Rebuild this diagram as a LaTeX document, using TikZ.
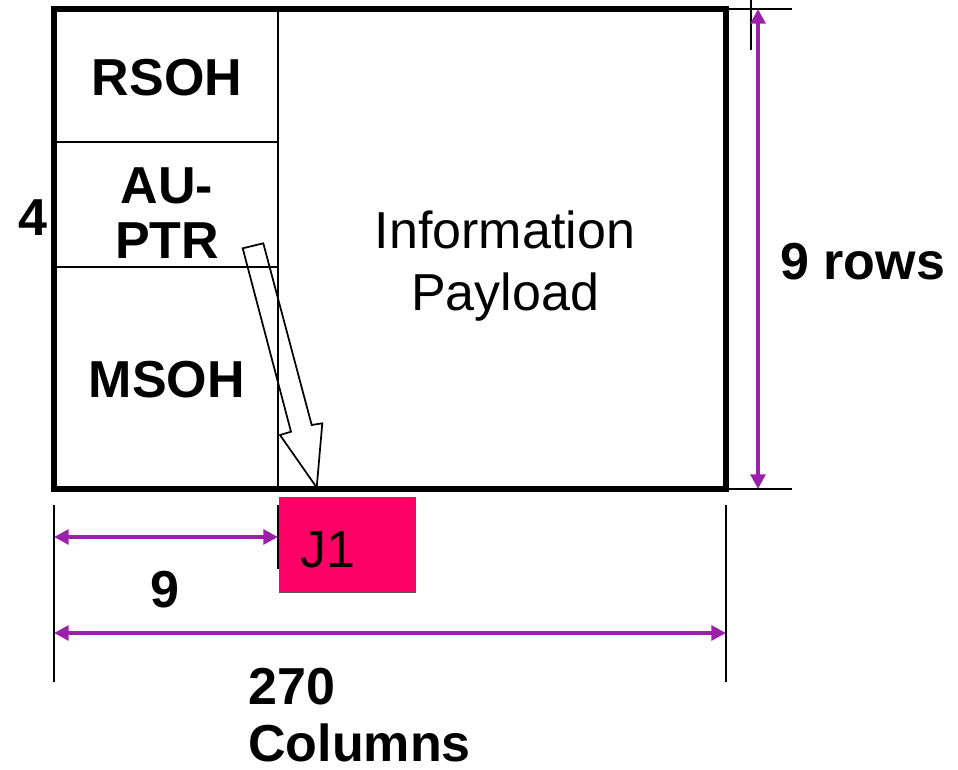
\documentclass[tikz,border=0pt]{standalone}
\usepackage{fontspec}
\setmainfont{Liberation Sans}
\usetikzlibrary{arrows.meta}
\definecolor{dimpurple}{RGB}{155,32,170}
\definecolor{jred}{RGB}{255,0,102}
\tikzset{
  frame/.style={line width=3.8pt},
  divider/.style={line width=1.5pt},
  extline/.style={line width=1.1pt},
  dimarrow/.style={draw=dimpurple, line width=3.2pt, {Triangle[length=11pt,width=11pt]}-{Triangle[length=11pt,width=11pt]}},
  boldlbl/.style={font=\fontsize{39}{41}\selectfont\bfseries, inner sep=0pt},
  plainlbl/.style={font=\fontsize{39}{46.5}\selectfont, inner sep=0pt},
}
\begin{document}
\begin{tikzpicture}[x=0.75pt,y=-0.75pt]
\useasboundingbox (0,0) rectangle (958,769);
% frame
\coordinate (tl) at (54,9);
\coordinate (br) at (726,489);
\draw[divider] (278,9) -- (278,489);
\draw[divider] (54,142) -- (278,142);
\draw[divider] (54,267) -- (278,267);
\draw[frame] (tl) rectangle (br);
% labels in frame
\node[boldlbl] (rsoh) at (167,78) {RSOH};
\node[boldlbl, align=center, font=\fontsize{39}{41.5}\selectfont\bfseries] (auptr) at (167,213) {AU-\\PTR};
\node[boldlbl] (msoh) at (167,380) {MSOH};
\node[plainlbl, align=center] (info) at (505,266) {Information\\Payload};
\node[boldlbl] (four) at (33,218) {4};
% J1 box
\node[draw=gray!70!black, line width=0.8pt, fill=jred, minimum width=102pt, minimum height=71pt, anchor=north west, inner sep=0pt] (j1box) at (279,497) {};
\node[font=\fontsize{39}{41}\selectfont, inner sep=0pt, anchor=west] (j1) at (300,550) {J1};
% hollow pointer arrow
\draw[line width=1.3pt, line join=miter] (242.7,248.3) -- (263.3,243.3) -- (311.7,425) -- (322.3,423.3) -- (316.7,487.5) -- (280,435) -- (291,431.7) -- cycle;
% right dimension
\coordinate (rt1) at (792,9);
\coordinate (rb1) at (792,489);
\draw[extline] (br |- tl) -- (rt1);
\draw[extline] (br) -- (rb1);
\draw[extline] (751,0) -- (751,50);
\coordinate (rowtop) at (758,9);
\coordinate (rowbot) at (758,489);
\draw[dimarrow] (rowtop) -- (rowbot);
\node[boldlbl, anchor=west] (rows) at (780,262) {9 rows};
% bottom dimensions
\coordinate (l1) at (54,505);
\coordinate (l2) at (54,682);
\coordinate (r1) at (726,505);
\coordinate (r2) at (726,682);
\coordinate (m1) at (278,505);
\coordinate (m2) at (278,569);
\draw[extline] (l1) -- (l2);
\draw[extline] (r1) -- (r2);
\draw[extline] (m1) -- (m2);
\coordinate (nineL) at (54,537);
\coordinate (nineR) at (278,537);
\draw[dimarrow] (nineL) -- (nineR);
\node[boldlbl] (nine) at (165,590) {9};
\coordinate (colL) at (54,633);
\coordinate (colR) at (726,633);
\draw[dimarrow] (colL) -- (colR);
\node[boldlbl, align=left, anchor=north west, font=\fontsize{39}{43}\selectfont\bfseries] (cols) at (248,668) {270\\Columns};
\end{tikzpicture}
\end{document}
